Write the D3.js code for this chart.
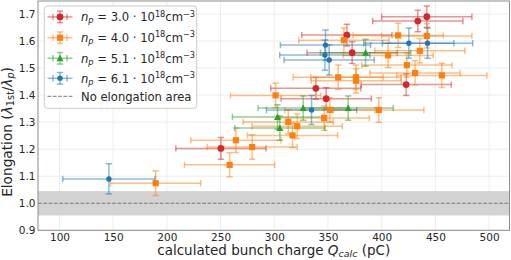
<!DOCTYPE html>
<html><head><meta charset="utf-8">
<script src="https://cdn.jsdelivr.net/npm/d3@7"></script>
<style>body{margin:0;background:#fff} svg{display:block} text{font-family:"DejaVu Sans",sans-serif}</style>
</head><body>
<script>
// ---- data ----
const redQ   = [250.3, 338.7, 348.3, 367.6, 372.5, 422.8, 433.6, 442.0];
const redE   = [1.203, 1.425, 1.387, 1.622, 1.557, 1.439, 1.674, 1.690];
const redQerr= [42, 42, 42, 42, 42, 42, 42, 42];
const redEerr= [0.04, 0.04, 0.04, 0.04, 0.04, 0.04, 0.04, 0.04];

const orangeQ   = [415.3, 442.0, 364.8, 435.5, 406.0, 423.4, 431.1, 456.0, 359.5, 376.0, 376.2, 301.2, 351.7, 397.3, 346.5, 313.0, 321.3, 317.0, 279.4, 264.3, 258.4, 189.5];
const orangeE   = [1.621, 1.619, 1.603, 1.564, 1.547, 1.511, 1.482, 1.473, 1.466, 1.466, 1.453, 1.399, 1.345, 1.345, 1.315, 1.301, 1.285, 1.251, 1.208, 1.233, 1.142, 1.074];
const orangeQerr= [42, 42, 42, 42, 42, 42, 42, 42, 42, 42, 42, 42, 42, 42, 42, 42, 42, 42, 42, 42, 42, 42];
const orangeEerr= [0.045, 0.045, 0.045, 0.045, 0.045, 0.045, 0.045, 0.045, 0.045, 0.045, 0.045, 0.045, 0.045, 0.045, 0.045, 0.045, 0.045, 0.045, 0.045, 0.045, 0.045, 0.045];

const greenQ   = [385.0, 326.9, 368.8, 303.0, 305.2];
const greenE   = [1.557, 1.352, 1.352, 1.319, 1.278];
const greenQerr= [42, 42, 42, 42, 42];
const greenEerr= [0.05, 0.045, 0.045, 0.045, 0.045];

const blueQ   = [146.0, 347.7, 347.1, 351.1, 425.3, 442.7, 334.7];
const blueE   = [1.090, 1.585, 1.548, 1.530, 1.592, 1.592, 1.345];
const blueQerr= [43, 42, 42, 42, 42, 42, 42];
const blueEerr= [0.056, 0.056, 0.056, 0.056, 0.056, 0.056, 0.054];

const densities = ["3.0", "4.0", "5.1", "6.1"];
const xTicks = [100, 150, 200, 250, 300, 350, 400, 450, 500];
const yTicks = [0.9, 1.0, 1.1, 1.2, 1.3, 1.4, 1.5, 1.6, 1.7];
const bandLow = 0.955, bandHigh = 1.045, refLine = 1.0;

// ---- setup ----
const W = 511, H = 260;
const L = 38, R = 509.5, T = 1, B = 230.3;
const svg = d3.select("body").append("svg").attr("width", W).attr("height", H);
const x = d3.scaleLinear().domain([80, 519]).range([L, R]);
const y = d3.scaleLinear().domain([0.9, 1.75]).range([B, T - 0.5]);

const series = [
  {Q: redQ, E: redE, qe: redQerr, ee: redEerr, color: "#d62728", marker: "circle"},
  {Q: orangeQ, E: orangeE, qe: orangeQerr, ee: orangeEerr, color: "#ff7f0e", marker: "square"},
  {Q: greenQ, E: greenE, qe: greenQerr, ee: greenEerr, color: "#2ca02c", marker: "triangle"},
  {Q: blueQ, E: blueE, qe: blueQerr, ee: blueEerr, color: "#1f77b4", marker: "dot"}
];

// clip
svg.append("clipPath").attr("id", "clip").append("rect")
  .attr("x", L).attr("y", T).attr("width", R - L).attr("height", B - T);

// grid
const grid = svg.append("g").attr("stroke", "#ebebeb").attr("stroke-width", 0.9);
xTicks.forEach(t => grid.append("line").attr("x1", x(t)).attr("x2", x(t)).attr("y1", T).attr("y2", B));
yTicks.forEach(t => grid.append("line").attr("x1", L).attr("x2", R).attr("y1", y(t)).attr("y2", y(t)));

// band & reference line
svg.append("rect").attr("x", L).attr("width", R - L)
  .attr("y", y(bandHigh)).attr("height", y(bandLow) - y(bandHigh)).attr("fill", "#d3d3d3");
svg.append("line").attr("x1", L).attr("x2", R).attr("y1", y(refLine)).attr("y2", y(refLine))
  .attr("stroke", "#777").attr("stroke-width", 1).attr("stroke-dasharray", "3.7,1.6");

// error bars
const plot = svg.append("g").attr("clip-path", "url(#clip)");
const cap = 3.2;
series.forEach(s => {
  const g = plot.append("g").attr("stroke", s.color).attr("stroke-opacity", 0.5).attr("stroke-width", 1.5);
  s.Q.forEach((q, i) => {
    const cx = x(q), cy = y(s.E[i]);
    const x0 = x(q - s.qe[i]), x1 = x(q + s.qe[i]);
    const y0 = y(s.E[i] - s.ee[i]), y1 = y(s.E[i] + s.ee[i]);
    g.append("line").attr("x1", x0).attr("x2", x1).attr("y1", cy).attr("y2", cy);
    g.append("line").attr("x1", cx).attr("x2", cx).attr("y1", y0).attr("y2", y1);
    g.append("line").attr("x1", x0).attr("x2", x0).attr("y1", cy - cap).attr("y2", cy + cap);
    g.append("line").attr("x1", x1).attr("x2", x1).attr("y1", cy - cap).attr("y2", cy + cap);
    g.append("line").attr("x1", cx - cap).attr("x2", cx + cap).attr("y1", y0).attr("y2", y0);
    g.append("line").attr("x1", cx - cap).attr("x2", cx + cap).attr("y1", y1).attr("y2", y1);
  });
});

function drawMarker(g, type, cx, cy, color) {
  if (type === "circle") g.append("circle").attr("cx", cx).attr("cy", cy).attr("r", 3.4).attr("fill", color);
  else if (type === "dot") g.append("circle").attr("cx", cx).attr("cy", cy).attr("r", 2.7).attr("fill", color);
  else if (type === "square") g.append("rect").attr("x", cx - 3.1).attr("y", cy - 3.1).attr("width", 6.2).attr("height", 6.2).attr("fill", color);
  else if (type === "triangle") {
    const s = 3.5;
    g.append("path").attr("d", `M${cx},${cy - s}L${cx + s},${cy + s * 0.85}L${cx - s},${cy + s * 0.85}Z`).attr("fill", color);
  }
}
series.forEach(s => {
  const g = plot.append("g");
  s.Q.forEach((q, i) => drawMarker(g, s.marker, x(q), y(s.E[i]), s.color));
});

// frame
svg.append("rect").attr("x", L).attr("y", T).attr("width", R - L).attr("height", B - T)
  .attr("fill", "none").attr("stroke", "#8c8c8c").attr("stroke-width", 1);

// axes
const xAxis = svg.append("g").attr("transform", `translate(0,${B})`)
  .call(d3.axisBottom(x).tickValues(xTicks).tickSize(0).tickPadding(3));
const yAxis = svg.append("g").attr("transform", `translate(${L},0)`)
  .call(d3.axisLeft(y).tickValues(yTicks).tickSize(0).tickPadding(2.5).tickFormat(d3.format(".1f")));
[xAxis, yAxis].forEach(a => {
  a.select(".domain").remove();
  a.selectAll("text").attr("font-family", "DejaVu Sans").attr("font-size", 10.5).attr("fill", "#262626");
});

// axis labels
const xl = svg.append("text").attr("x", (L + R) / 2).attr("y", 255).attr("text-anchor", "middle")
  .attr("font-size", 13.5).attr("fill", "#262626");
xl.append("tspan").text("calculated bunch charge ");
xl.append("tspan").attr("font-style", "italic").text("Q");
xl.append("tspan").attr("font-style", "italic").attr("font-size", 9.5).attr("dy", 2.2).text("calc");
xl.append("tspan").attr("dy", -2.2).text(" (pC)");

const yl = svg.append("text").attr("transform", "translate(12,132) rotate(-90)").attr("text-anchor", "middle")
  .attr("font-size", 13.7).attr("fill", "#262626");
yl.append("tspan").text("Elongation (");
yl.append("tspan").attr("font-style", "italic").text("λ");
yl.append("tspan").attr("font-size", 9.6).attr("dy", 2.2).text("1st");
yl.append("tspan").attr("dy", -2.2).text("/");
yl.append("tspan").attr("font-style", "italic").text("λ");
yl.append("tspan").attr("font-style", "italic").attr("font-size", 9.6).attr("dy", 2.2).text("p");
yl.append("tspan").attr("dy", -2.2).text(")");

// legend
const lg = svg.append("g");
lg.append("rect").attr("x", 44.3).attr("y", 6).attr("width", 152.4).attr("height", 102.3)
  .attr("rx", 3).attr("fill", "#fff").attr("fill-opacity", 0.8).attr("stroke", "#cccccc").attr("stroke-width", 1);
const rowsY = [16.9, 37.7, 58.3, 78.3];
const hx = 60;
series.forEach((s, i) => {
  const cy = rowsY[i];
  const g = lg.append("g").attr("stroke", s.color).attr("stroke-opacity", 0.5).attr("stroke-width", 1.5);
  g.append("line").attr("x1", 47.5).attr("x2", 72.5).attr("y1", cy).attr("y2", cy);
  g.append("line").attr("x1", 53).attr("x2", 53).attr("y1", cy - cap).attr("y2", cy + cap);
  g.append("line").attr("x1", 67).attr("x2", 67).attr("y1", cy - cap).attr("y2", cy + cap);
  g.append("line").attr("x1", hx).attr("x2", hx).attr("y1", cy - 5.8).attr("y2", cy + 5.8);
  g.append("line").attr("x1", hx - cap).attr("x2", hx + cap).attr("y1", cy - 5.8).attr("y2", cy - 5.8);
  g.append("line").attr("x1", hx - cap).attr("x2", hx + cap).attr("y1", cy + 5.8).attr("y2", cy + 5.8);
  drawMarker(lg, s.marker, hx, cy, s.color);
  const t = lg.append("text").attr("x", 81).attr("y", cy + 4.2).attr("font-size", 11.6).attr("fill", "#262626");
  t.append("tspan").attr("font-style", "italic").text("n");
  t.append("tspan").attr("font-style", "italic").attr("font-size", 8.2).attr("dy", 2).text("p");
  t.append("tspan").attr("dy", -2).text(" = " + densities[i] + " · 10");
  t.append("tspan").attr("font-size", 8.2).attr("dy", -4.5).text("18");
  t.append("tspan").attr("dy", 4.5).text("cm");
  t.append("tspan").attr("font-size", 8.2).attr("dy", -4.5).text("−3");
});
lg.append("line").attr("x1", 47.5).attr("x2", 72.5).attr("y1", 96.3).attr("y2", 96.3)
  .attr("stroke", "#777").attr("stroke-width", 1).attr("stroke-dasharray", "3.7,1.6");
lg.append("text").attr("x", 81).attr("y", 100.5).attr("font-size", 11.6).attr("fill", "#262626").text("No elongation area");
</script>
</body></html>
